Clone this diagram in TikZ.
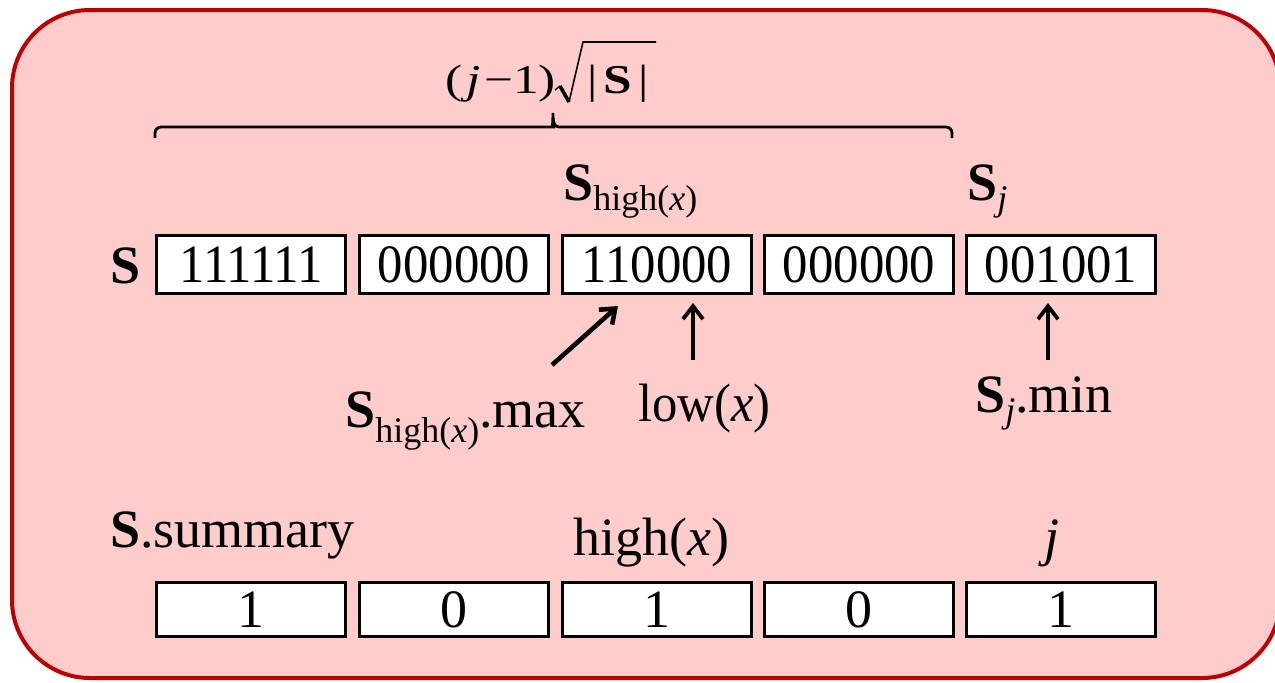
\documentclass[tikz,border=0pt]{standalone}
\usepackage{fontspec}
\setmainfont{Liberation Serif}
\usetikzlibrary{arrows.meta}
\definecolor{framered}{HTML}{C00000}
\definecolor{panelpink}{HTML}{FFCCCC}
\newcommand\bS{\textbf{S}}
\newcommand\lowsub[2][-5pt]{\raisebox{#1}{\fontsize{18}{18}\selectfont #2}}
\newcommand\nar[1]{\scalebox{0.94}[1]{#1}}
\newcommand\wide[1]{\scalebox{1.25}[1]{#1}}
\begin{document}
\begin{tikzpicture}[x=0.5pt,y=-0.5pt,
  cell/.style={draw=black,line width=1.4pt,fill=white,inner sep=0pt,minimum width=94.5pt,font=\fontsize{27}{30}\selectfont},
  toprow/.style={cell,minimum height=29.3pt},
  botrow/.style={cell,minimum height=27.3pt},
  lab/.style={inner sep=0pt,anchor=base west,font=\fontsize{27}{30}\selectfont},
  formula/.style={inner sep=0pt,anchor=base west,font=\fontsize{20.5}{22}\selectfont},
  ptr/.style={-{Straight Barb[length=6.5pt,width=10pt]},line width=1.9pt},
  ptrthick/.style={ptr,line width=2.3pt},
  bracepath/.style={line width=1.4pt}]
\useasboundingbox (0,0) rectangle (1275,682);
\fill[white] (0,0) rectangle (1275,682);
\draw[framered,fill=panelpink,line width=2pt,rounded corners=39pt] (12,10) rectangle (1280,678);

% brace and formula
\draw[bracepath] (155,138) [rounded corners=3pt] |- (547,127) [sharp corners]
  .. controls (552,127) and (553,122) .. (553,113)
  .. controls (553,122) and (554,127) .. (559,127)
  [rounded corners=3pt] -| (952,138);
\node[formula] (lenA) at (445,93) {\wide{(\kern1.5pt\textit{j}\kern1.5pt−1)}};
\draw[line width=0.7pt] (555,90) -- (560,86);
\draw[line width=1.8pt] (560,86) -- (569,102);
\draw[line width=0.8pt] (569,102) -- (583,42) -- (656,42);
\node[formula] (lenB) at (587,93) {\wide{\textbar\kern2.5pt\textbf{S}\kern2.5pt\textbar}};

% top row
\node[lab] (S) at (110,283) {\bS};
\node[toprow] (b1) at (251,264.5) {\nar{111111}};
\node[toprow] (b2) at (454,264.5) {\nar{000000}};
\node[toprow] (b3) at (657,264.5) {\nar{110000}};
\node[toprow] (b4) at (859,264.5) {\nar{000000}};
\node[toprow] (b5) at (1061,264.5) {\nar{001001}};

\node[lab] (Shigh) at (563,200) {\bS\lowsub[-5pt]{high(\textit{x})}};
\node[lab] (Sj) at (967,200) {\bS\lowsub[-5pt]{\textit{j}}};

% pointers
\coordinate (a1s) at (552,365);
\coordinate (a1e) at (618,306);
\coordinate (a2s) at (693,360);
\coordinate (a2e) at (693,303);
\coordinate (a3s) at (1048,360);
\coordinate (a3e) at (1048,303);
\draw[ptrthick] (a1s) -- (a1e);
\draw[ptr] (a2s) -- (a2e);
\draw[ptr] (a3s) -- (a3e);

\node[lab] (Smax) at (345,427) {\bS\lowsub[-7.5pt]{high(\textit{x})}.max};
\node[lab] (low) at (638,421) {\nar{low(\textit{x})}};
\node[lab] (Smin) at (975,412) {\bS\lowsub[-5pt]{\textit{j}}.min};

% summary
\node[lab] (summ) at (110,547) {\bS.summary};
\node[lab] (hx) at (573,555) {high(\textit{x})};
\node[lab,anchor=base] (jl) at (1052,555) {\textit{j}};
\node[botrow] (c1) at (251,609.5) {1};
\node[botrow] (c2) at (454,609.5) {0};
\node[botrow] (c3) at (657,609.5) {1};
\node[botrow] (c4) at (859,609.5) {0};
\node[botrow] (c5) at (1061,609.5) {1};
\end{tikzpicture}
\end{document}
